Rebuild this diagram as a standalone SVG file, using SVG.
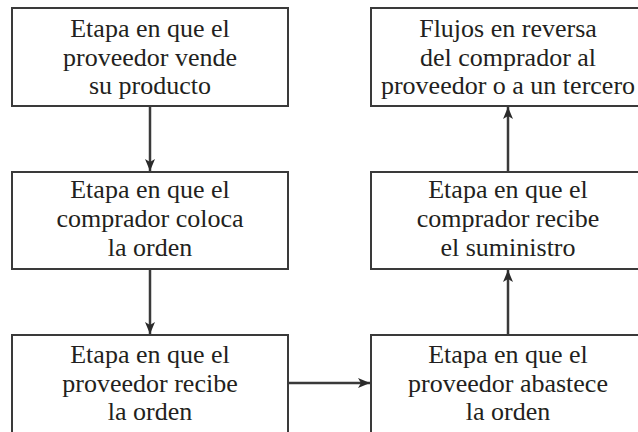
<svg xmlns="http://www.w3.org/2000/svg" width="638" height="432" viewBox="0 0 638 432">
<defs>
<marker id="ah" viewBox="0 0 12 12" refX="12" refY="6" markerWidth="12" markerHeight="12" markerUnits="userSpaceOnUse" orient="auto">
<path d="M0,1 L12,6 L0,11 L3,6 Z" fill="#2b2b2b"/>
</marker>
<style>
.box{fill:#fff;stroke:#3a3a3a;stroke-width:2}
.t{font-family:"Liberation Serif","Times New Roman",serif;font-size:26px;fill:#231f20;text-anchor:middle}
.c{stroke:#3a3a3a;stroke-width:2.5;fill:none;marker-end:url(#ah)}
</style>
</defs>
<rect width="638" height="432" fill="#fff"/>
<g id="n1">
<rect class="box" x="12" y="8" width="276" height="98"/>
<text class="t" x="150" y="37">Etapa en que el</text>
<text class="t" x="150" y="65.5">proveedor vende</text>
<text class="t" x="150" y="94">su producto</text>
</g>
<g id="n2">
<rect class="box" x="12" y="172" width="276" height="97"/>
<text class="t" x="150" y="198">Etapa en que el</text>
<text class="t" x="150" y="227">comprador coloca</text>
<text class="t" x="150" y="256">la orden</text>
</g>
<g id="n3">
<rect class="box" x="12" y="335" width="276" height="110"/>
<text class="t" x="150" y="363">Etapa en que el</text>
<text class="t" x="150" y="392">proveedor recibe</text>
<text class="t" x="150" y="420">la orden</text>
</g>
<g id="n4">
<rect class="box" x="371" y="335" width="276" height="110"/>
<text class="t" x="508" y="363">Etapa en que el</text>
<text class="t" x="508" y="392">proveedor abastece</text>
<text class="t" x="508" y="420">la orden</text>
</g>
<g id="n5">
<rect class="box" x="371" y="172" width="276" height="97"/>
<text class="t" x="508" y="198">Etapa en que el</text>
<text class="t" x="508" y="227">comprador recibe</text>
<text class="t" x="508" y="256">el suministro</text>
</g>
<g id="n6">
<rect class="box" x="371" y="8" width="276" height="98"/>
<text class="t" x="508" y="37">Flujos en reversa</text>
<text class="t" x="508" y="65.5">del comprador al</text>
<text class="t" x="508" y="94">proveedor o a un tercero</text>
</g>
<g id="connectors">
<line class="c" x1="150" y1="107" x2="150" y2="171"/>
<line class="c" x1="150" y1="270" x2="150" y2="334"/>
<line class="c" x1="289" y1="383" x2="370" y2="383"/>
<line class="c" x1="508" y1="334" x2="508" y2="270"/>
<line class="c" x1="508" y1="171" x2="508" y2="107"/>
</g>
</svg>
